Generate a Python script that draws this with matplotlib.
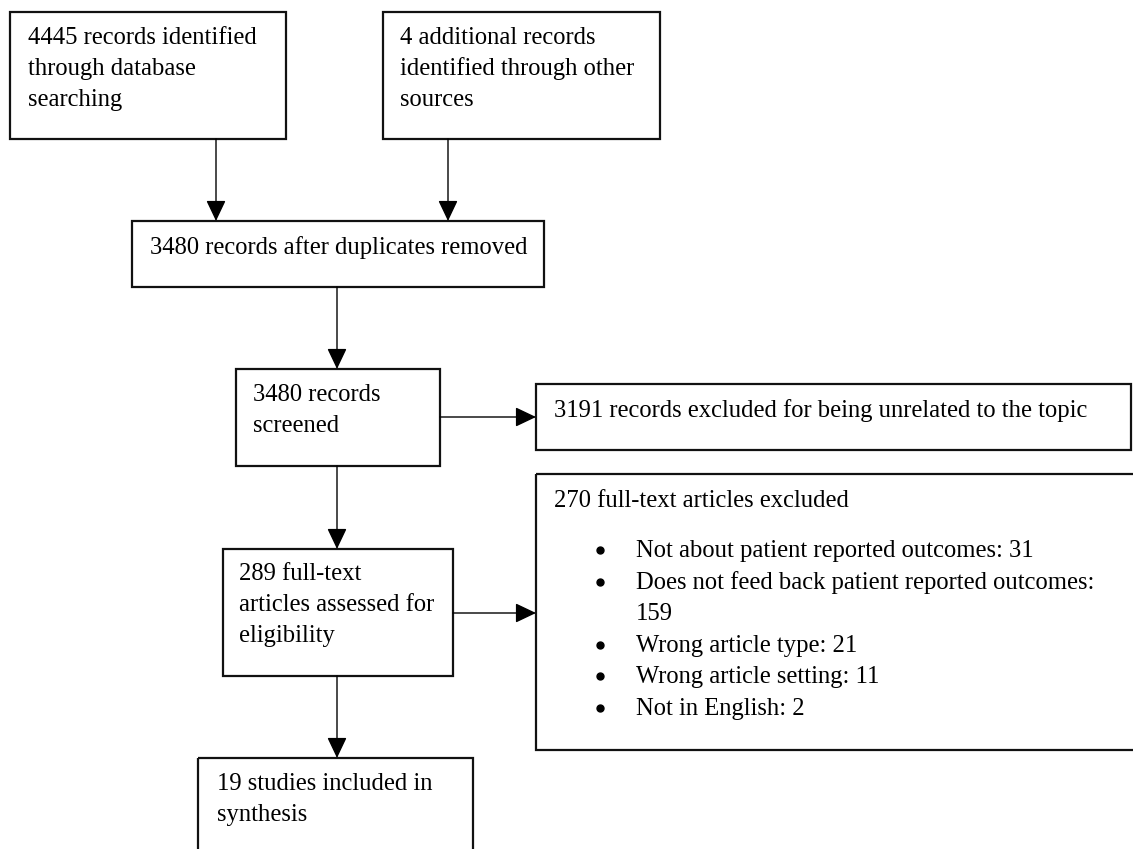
import matplotlib
matplotlib.use("Agg")
import matplotlib.pyplot as plt
from matplotlib.patches import Rectangle

# box texts of the flow diagram, one list of lines per box
identified_db = ["4445 records identified", "through database", "searching"]
identified_other = ["4 additional records", "identified through other", "sources"]
after_duplicates = ["3480 records after duplicates removed"]
screened = ["3480 records", "screened"]
excluded_screen = ["3191 records excluded for being unrelated to the topic"]
assessed = ["289 full-text", "articles assessed for", "eligibility"]
included = ["19 studies included in", "synthesis"]
fulltext_title = "270 full-text articles excluded"
fulltext_reasons = ["Not about patient reported outcomes: 31",
                    "Does not feed back patient reported outcomes:",
                    "Wrong article type: 21",
                    "Wrong article setting: 11",
                    "Not in English: 2"]
reason_wrap = {1: "159"}  # second line of a wrapped bullet

W, H = 1133, 849
FS = 17.7
LINE = 31.0
plt.rcParams['font.family'] = ['Liberation Serif', 'DejaVu Serif']

fig = plt.figure(figsize=(W / 100, H / 100), dpi=100)
ax = fig.add_axes([0, 0, 1, 1])
ax.set_xlim(0, W)
ax.set_ylim(H, 0)
ax.axis('off')


def box(x0, y0, x1, y1):
    ax.add_patch(Rectangle((x0, y0), x1 - x0, y1 - y0, fill=False,
                           edgecolor='#111111', lw=1.6))


def lines(x, y, txt):
    for i, t in enumerate(txt):
        ax.text(x, y + i * LINE, t, fontsize=FS, va='baseline', ha='left')


def arrow(x0, y0, x1, y1):
    ax.annotate('', xy=(x1, y1), xytext=(x0, y0),
                arrowprops=dict(arrowstyle='-|>,head_length=0.8,head_width=0.38',
                                mutation_scale=16, lw=1.0, color='black',
                                shrinkA=0, shrinkB=0))


box(10, 12, 286, 139)
lines(28, 44, identified_db)
box(383, 12, 660, 139)
lines(400, 44, identified_other)

arrow(216, 139, 216, 221)
arrow(448, 139, 448, 221)

box(132, 221, 544, 287)
lines(150, 254, after_duplicates)

arrow(337, 287, 337, 369)
box(236, 369, 440, 466)
lines(253, 401, screened)

arrow(440, 417, 536, 417)
box(536, 384, 1131, 450)
lines(554, 417, excluded_screen)

arrow(337, 466, 337, 549)
box(223, 549, 453, 676)
lines(239, 580, assessed)

arrow(453, 613, 536, 613)
box(536, 474, 1145, 750)
ax.text(554, 507, fulltext_title, fontsize=FS, va='baseline')
y = 557
for i, r in enumerate(fulltext_reasons):
    ax.plot(600, y - 7, 'o', ms=5, color='black')
    ax.text(636, y, r, fontsize=FS, va='baseline')
    y += 31.6
    if i in reason_wrap:
        ax.text(636, y, reason_wrap[i], fontsize=FS, va='baseline')
        y += 31.6

arrow(337, 676, 337, 758)
box(198, 758, 473, 900)
lines(217, 790, included)

fig.savefig("out.png", dpi=100, facecolor='white')
